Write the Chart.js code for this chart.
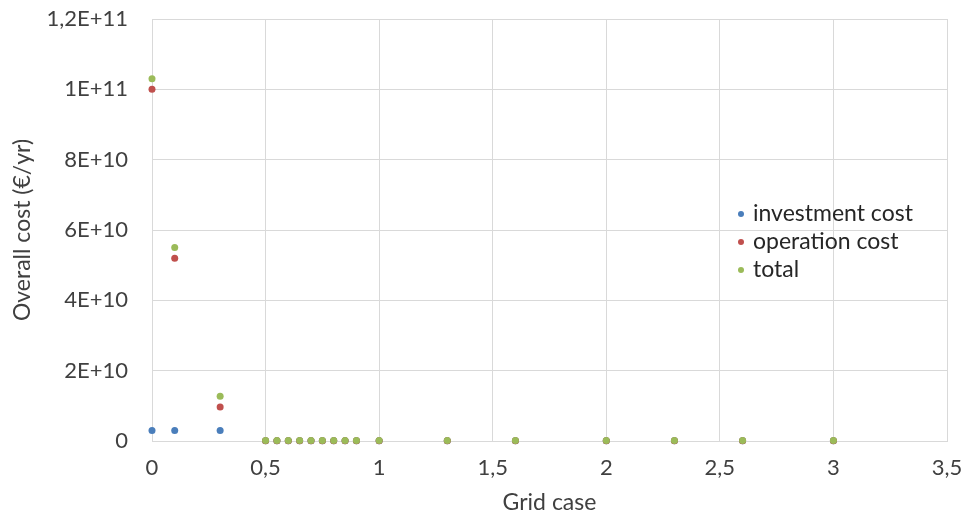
<!DOCTYPE html>
<html>
<head>
<meta charset="utf-8">
<script src="https://cdn.jsdelivr.net/npm/chart.js@4.4.0/dist/chart.umd.min.js"></script>
<style>
  html, body { margin: 0; padding: 0; background: #ffffff; }
  #wrap { width: 966px; height: 514px; }
</style>
</head>
<body>
<div id="wrap"><canvas id="myChart" width="966" height="514"></canvas></div>
<script>
// grid case values (x) and the three cost series (€/yr)
var gridCase = [0, 0.1, 0.3, 0.5, 0.55, 0.6, 0.65, 0.7, 0.75, 0.8, 0.85, 0.9, 1, 1.3, 1.6, 2, 2.3, 2.6, 3];
var investmentCost = [3e9, 3e9, 3e9, 1e8, 1e8, 1e8, 1e8, 1e8, 1e8, 1e8, 1e8, 1e8, 1e8, 1e8, 1e8, 1e8, 1e8, 1e8, 1e8];
var operationCost = [1e11, 5.2e10, 9.7e9, 5e7, 5e7, 5e7, 5e7, 5e7, 5e7, 5e7, 5e7, 5e7, 5e7, 5e7, 5e7, 5e7, 5e7, 5e7, 5e7];
var totalCost = [1.03e11, 5.5e10, 1.27e10, 1.5e8, 1.5e8, 1.5e8, 1.5e8, 1.5e8, 1.5e8, 1.5e8, 1.5e8, 1.5e8, 1.5e8, 1.5e8, 1.5e8, 1.5e8, 1.5e8, 1.5e8, 1.5e8];
var seriesNames = ['investment cost', 'operation cost', 'total'];
var seriesColors = ['#4a7ebb', '#c0504d', '#9bbb59'];

function toPoints(ys) {
    return gridCase.map(function (x, i) { return { x: x, y: ys[i] }; });
}

function sciLabel(v) {
    if (v === 0) return '0';
    var e = Math.floor(Math.log10(v) + 1e-9);
    var m = Math.round(v / Math.pow(10, e) * 10) / 10;
    return String(m).replace('.', ',') + 'E+' + e;
}

var fontFam = 'Lato, "Open Sans", sans-serif';
var textCol = '#404040';

// legend drawn inside the plot, like the original
var innerLegend = {
    id: 'innerLegend',
    afterDraw: function (chart) {
        var c = chart.ctx;
        c.save();
        c.font = '23px ' + fontFam;
        c.textBaseline = 'middle';
        for (var i = 0; i < seriesNames.length; i++) {
            var y = 214 + i * 28;
            c.fillStyle = seriesColors[i];
            c.beginPath();
            c.arc(741, y, 3, 0, Math.PI * 2);
            c.fill();
            c.fillStyle = '#262626';
            c.fillText(seriesNames[i], 753, y);
        }
        c.restore();
    }
};

function ds(i, ys, ord) {
    return {
        label: seriesNames[i],
        data: toPoints(ys),
        backgroundColor: seriesColors[i],
        borderWidth: 0,
        pointRadius: 3.5,
        clip: false,
        order: ord
    };
}

const ctx = document.getElementById('myChart').getContext('2d');
var myChartConfig = {
    type: 'scatter',
    data: {
        datasets: [
            ds(0, investmentCost, 3),
            ds(1, operationCost, 2),
            ds(2, totalCost, 1)
        ]
    },
    options: {
        responsive: false,
        animation: false,
        layout: { padding: { top: 19, right: 19, left: 0, bottom: 0 } },
        plugins: {
            legend: { display: false },
            tooltip: { enabled: false }
        },
        scales: {
            x: {
                type: 'linear',
                min: 0,
                max: 3.5,
                ticks: {
                    stepSize: 0.5,
                    padding: 14,
                    color: textCol,
                    font: { family: fontFam, size: 22 },
                    callback: function (v) { return String(v).replace('.', ','); }
                },
                grid: { color: '#d9d9d9', drawTicks: false },
                border: { color: '#d9d9d9' },
                title: {
                    display: true,
                    text: 'Grid case',
                    color: textCol,
                    font: { family: fontFam, size: 23, lineHeight: 1 },
                    padding: { top: 0, bottom: 0 }
                },
                afterFit: function (s) {
                    s.height = 73;
                    s.paddingLeft = 0;
                    s.paddingRight = 0;
                }
            },
            y: {
                min: 0,
                max: 1.2e11,
                ticks: {
                    stepSize: 2e10,
                    padding: 24,
                    color: textCol,
                    font: { family: fontFam, size: 22 },
                    callback: function (v) { return sciLabel(v); }
                },
                grid: { color: '#d9d9d9', drawTicks: false },
                border: { color: '#d9d9d9' },
                title: {
                    display: true,
                    text: 'Overall cost (€/yr)',
                    color: textCol,
                    font: { family: fontFam, size: 23, lineHeight: 1 },
                    padding: { top: 11, bottom: 0 }
                },
                afterFit: function (s) {
                    s.width = 152;
                    s.paddingTop = 0;
                    s.paddingBottom = 0;
                }
            }
        }
    },
    plugins: [innerLegend]
};
const myChart = new Chart(ctx, myChartConfig);
</script>
</body>
</html>
